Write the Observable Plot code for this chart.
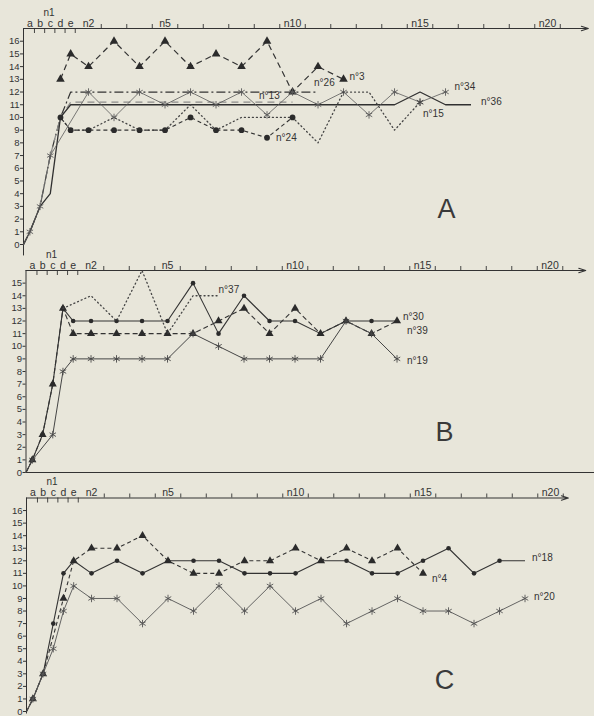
<!DOCTYPE html>
<html><head><meta charset="utf-8">
<script src="https://cdn.jsdelivr.net/npm/d3@7"></script>
<script src="https://cdn.jsdelivr.net/npm/@observablehq/plot@0.6"></script>
<style>
body{margin:0;background:#e8e6da;}
#wrap{position:relative;width:594px;height:716px;overflow:hidden;}
#wrap svg{position:absolute;left:0;}
</style>
</head><body><div id="wrap"></div>
<script>
// ---------- categories / tick labels ----------
const steps = ["0","a","b","c","d","e","n2","n3","n4","n5","n6","n7","n8","n9","n10","n11","n12","n13","n14","n15","n16","n17","n18","n19","n20"];
const subLabels = ["a","b","c","d","e"];
const groupLabel = ["n1"];
const nLabels = ["n2","n5","n10","n15","n20"];
const sessionBounds = [2.5,3.5,4.5,5.5,6.5,7.5,8.5,9.5,10.5,11.5,12.5,13.5,14.5,15.5,16.5,17.5,18.5,19.5,20.5];
const yTicksA = [0,1,2,3,4,5,6,7,8,9,10,11,12,13,14,15,16];
const yTicksB = [0,1,2,3,4,5,6,7,8,9,10,11,12,13,14,15];
const yTicksC = [0,1,2,3,4,5,6,7,8,9,10,11,12,13,14,15,16];

// ---------- series values (aligned with steps; null = no point) ----------
// Panel A
const A_n3  = [null,null,null,null,13,15,14,16,14,16,14,15,14,16,12,14,13];
const A_n26 = [0,1,3,7,10,12,12,12,12,12,12,12,12,12,12,12];
const A_n13 = [0,1,3,7,10,11.2,11.2,11.2,11.2,11.2,11.2,11.2,11.2,11.2,11.2];
const A_n36 = [0,1,3,4,10,11,11,11,11,11,11,11,11,11,11,11,11,11,11,12,11,11];
const A_n34 = [0,1,3,7,null,null,12,10,12,11,12,11,12,10.2,12,11,12,10.2,12,11.2,12];
const A_n15 = [null,null,null,null,10,9,9,10,9,9,11,9,10,10,10,8,12,12,9,11.2];
const A_n24 = [null,null,null,null,10,9,9,9,9,9,10,9,9,8.4,10];
// Panel B
const B_n30 = [0,1,3,7,13,12,12,12,12,12,15,11,14,12,12,11,12,12,12];
const B_n39 = [0,1,3,7,13,11,11,11,11,11,11,12,13,11,13,11,12,11,12];
const B_n19 = [0,1,null,3,8,9,9,9,9,9,11,10,9,9,9,9,12,11,9];
const B_n37 = [null,null,null,null,13,null,14,12,16,11,14,14];
// Panel C
const C_n18 = [0,1,3,7,11,12,11,12,11,12,12,12,11,11,11,12,12,11,11,12,13,11,12,12];
const C_n4  = [0,1,3,null,9,12,13,13,14,12,11,11,12,12,13,12,13,12,13,11];
const C_n20 = [0,1,3,5,8,10,9,9,7,9,8,10,8,10,8,9,7,8,9,8,8,7,8,9];

// ---------- scale mapping of the categories ----------
const subPos = {"0": -0.55, a: -0.3, b: 0.1, c: 0.5, d: 0.9, e: 1.3};
const xOf = s => (s in subPos ? subPos[s] : +s.slice(1));

// ---------- styles ----------
const ink = "#333333";
const font = "'Liberation Sans', Arial, sans-serif";

const panels = [
  {name:"A", top:17, yTicks:yTicksA, axisBottom:-0.9, arrowEnd:21.6, svgTop:0, height:252, mt:28, mb:8, ml:23, letterX:16.04, letterY:2.8,
   series:[
    {label:"n°3",  values:A_n3,  dash:"6,4", width:1.2, color:ink, symbol:"triangle", r:3.2, labelAt:"n12", dx:6, dy:-3},
    {label:"n°26", values:A_n26, dash:"9,3,2,3", width:1.2, color:ink, labelAt:"n11", dx:-4, dy:-9},
    {label:"n°13", values:A_n13, dash:"7,5", width:1.2, color:"#8c8c8a", labelAt:"n9", dx:-8, dy:-6},
    {label:"n°36", values:A_n36, dash:null, width:1.3, color:"#303030", labelAt:"n17", dx:10, dy:-3},
    {label:"n°34", values:A_n34, dash:null, width:0.8, color:"#5a5a5a", symbol:"asterisk", r:3.5, labelAt:"n16", dx:9, dy:-5},
    {label:"n°15", values:A_n15, dash:"1,3", width:1.3, color:"#444", symbol:"asterisk", r:3.5, markOnly:["n15"], labelAt:"n15", dx:3, dy:12},
    {label:"n°24", values:A_n24, dash:"4,3", width:1.1, color:ink, symbol:"circle", r:2.9, labelAt:"n9", dx:9, dy:0}
   ]},
  {name:"B", top:16, yTicks:yTicksB, axisBottom:0, arrowEnd:21.4, baseline:true, svgTop:248, height:230, mt:22, mb:6, ml:25.5, letterX:15.86, letterY:3.2,
   series:[
    {label:"n°30", values:B_n30, dash:null, width:1.1, color:ink, symbol:"circle", r:2.3, noMark:["n14"], labelAt:"n14", dx:6, dy:-4},
    {label:"n°39", values:B_n39, dash:"5,3", width:1.1, color:ink, symbol:"triangle", r:3, labelAt:"n14", dx:10, dy:10},
    {label:"n°19", values:B_n19, dash:null, width:1, color:"#454545", symbol:"asterisk", r:3.5, labelAt:"n14", dx:10, dy:2},
    {label:"n°37", values:B_n37, dash:"1,3", width:1.3, color:"#444", labelAt:"n7", dx:0, dy:-6}
   ]},
  {name:"C", top:17, yTicks:yTicksC, axisBottom:-0.2, arrowEnd:20.7, svgTop:478, height:238, mt:19.5, mb:5, ml:26, letterX:15.84, letterY:2.45,
   series:[
    {label:"n°18", values:C_n18, dash:null, width:1.1, color:ink, symbol:"circle", r:2.3, noMark:["n19"], labelAt:"n19", dx:7, dy:-3},
    {label:"n°4",  values:C_n4,  dash:"4,3", width:1.1, color:ink, symbol:"triangle", r:3, labelAt:"n15", dx:9, dy:5},
    {label:"n°20", values:C_n20, dash:null, width:0.9, color:"#555", symbol:"asterisk", r:3.5, labelAt:"n19", dx:9, dy:-2}
   ]}
];

const XMIN = -0.55, XMAX = 21.6, PXU = 25.5;

function drawPanel(p){
  const plotH = p.height - p.mt - p.mb;
  const unit = plotH / p.top;
  const mr = 594 - p.ml - (XMAX - XMIN) * PXU;
  const marks = [];
  // y axis
  marks.push(Plot.axisY({ticks: p.yTicks, tickSize: 3, tickPadding: 1, fontSize: 9.5, fill: ink, stroke: ink}));
  marks.push(Plot.ruleX([{x: XMIN, y1: p.axisBottom, y2: p.top}], {x: "x", y1: "y1", y2: "y2", stroke: ink, strokeWidth: 1}));
  // top x axis with arrow
  marks.push(Plot.arrow([{x1: XMIN, x2: p.arrowEnd, y: p.top}], {x1: "x1", x2: "x2", y1: "y", y2: "y", stroke: ink, strokeWidth: 1.1, headLength: 10, headAngle: 35}));
  marks.push(Plot.ruleX(sessionBounds, {x: d => d, y1: () => p.top, y2: () => p.top + 4 / unit, stroke: ink, strokeWidth: 0.9}));
  marks.push(Plot.ruleX(subLabels, {x: s => subPos[s] + 0.18, y1: () => p.top, y2: () => p.top - 5 / unit, stroke: ink, strokeWidth: 0.9}));
  marks.push(Plot.text(subLabels, {x: s => subPos[s], y: () => p.top, dy: -5, text: d => d, fontSize: 10.5, fill: ink}));
  marks.push(Plot.text(groupLabel, {x: () => 0.45, y: () => p.top, dy: -16, text: d => d, fontSize: 10, fill: ink}));
  marks.push(Plot.text(nLabels, {x: xOf, y: () => p.top, dy: -5, text: d => d, fontSize: 10.5, fill: ink}));
  if (p.baseline) marks.push(Plot.ruleY([0], {x1: () => XMIN, x2: () => 22.2, stroke: ink, strokeWidth: 1.1}));
  // series
  for (const s of p.series){
    const rows = s.values.map((v, i) => ({x: xOf(steps[i]), y: v, step: steps[i]})).filter(d => d.y != null);
    marks.push(Plot.line(rows, {x: "x", y: "y", stroke: s.color, strokeWidth: s.width, strokeDasharray: s.dash || undefined, strokeLinecap: s.dash === "1,3" ? "round" : "butt"}));
    if (s.symbol){
      let pts = rows.filter(d => d.step !== "0");
      if (s.markOnly) pts = pts.filter(d => s.markOnly.includes(d.step));
      if (s.noMark) pts = pts.filter(d => !s.noMark.includes(d.step));
      if (s.symbol === "asterisk"){
        marks.push(Plot.dot(pts, {x: "x", y: "y", symbol: "asterisk", r: s.r, stroke: s.color, strokeWidth: 0.9, fill: "none"}));
      } else {
        marks.push(Plot.dot(pts, {x: "x", y: "y", symbol: s.symbol, r: s.r, fill: "#2b2b2b", stroke: "none"}));
      }
    }
    const at = rows.find(d => d.step === s.labelAt);
    marks.push(Plot.text([s.label], {x: () => at.x, y: () => at.y, dx: s.dx, dy: s.dy, text: d => d, textAnchor: "start", fontSize: 10, fill: ink}));
  }
  // panel letter
  marks.push(Plot.text([p.name], {x: () => p.letterX, y: () => p.letterY, text: d => d, fontSize: 27, fill: "#3a3a3a"}));

  const svg = Plot.plot({
    width: 594, height: p.height,
    marginLeft: p.ml, marginRight: mr, marginTop: p.mt, marginBottom: p.mb,
    x: {domain: [XMIN, XMAX], axis: null},
    y: {domain: [0, p.top], axis: null},
    style: {background: "transparent", overflow: "visible", fontFamily: font, color: ink},
    marks
  });
  svg.style.top = p.svgTop + "px";
  return svg;
}

const wrap = document.getElementById("wrap");
for (const p of panels) wrap.appendChild(drawPanel(p));
</script>
</body></html>
